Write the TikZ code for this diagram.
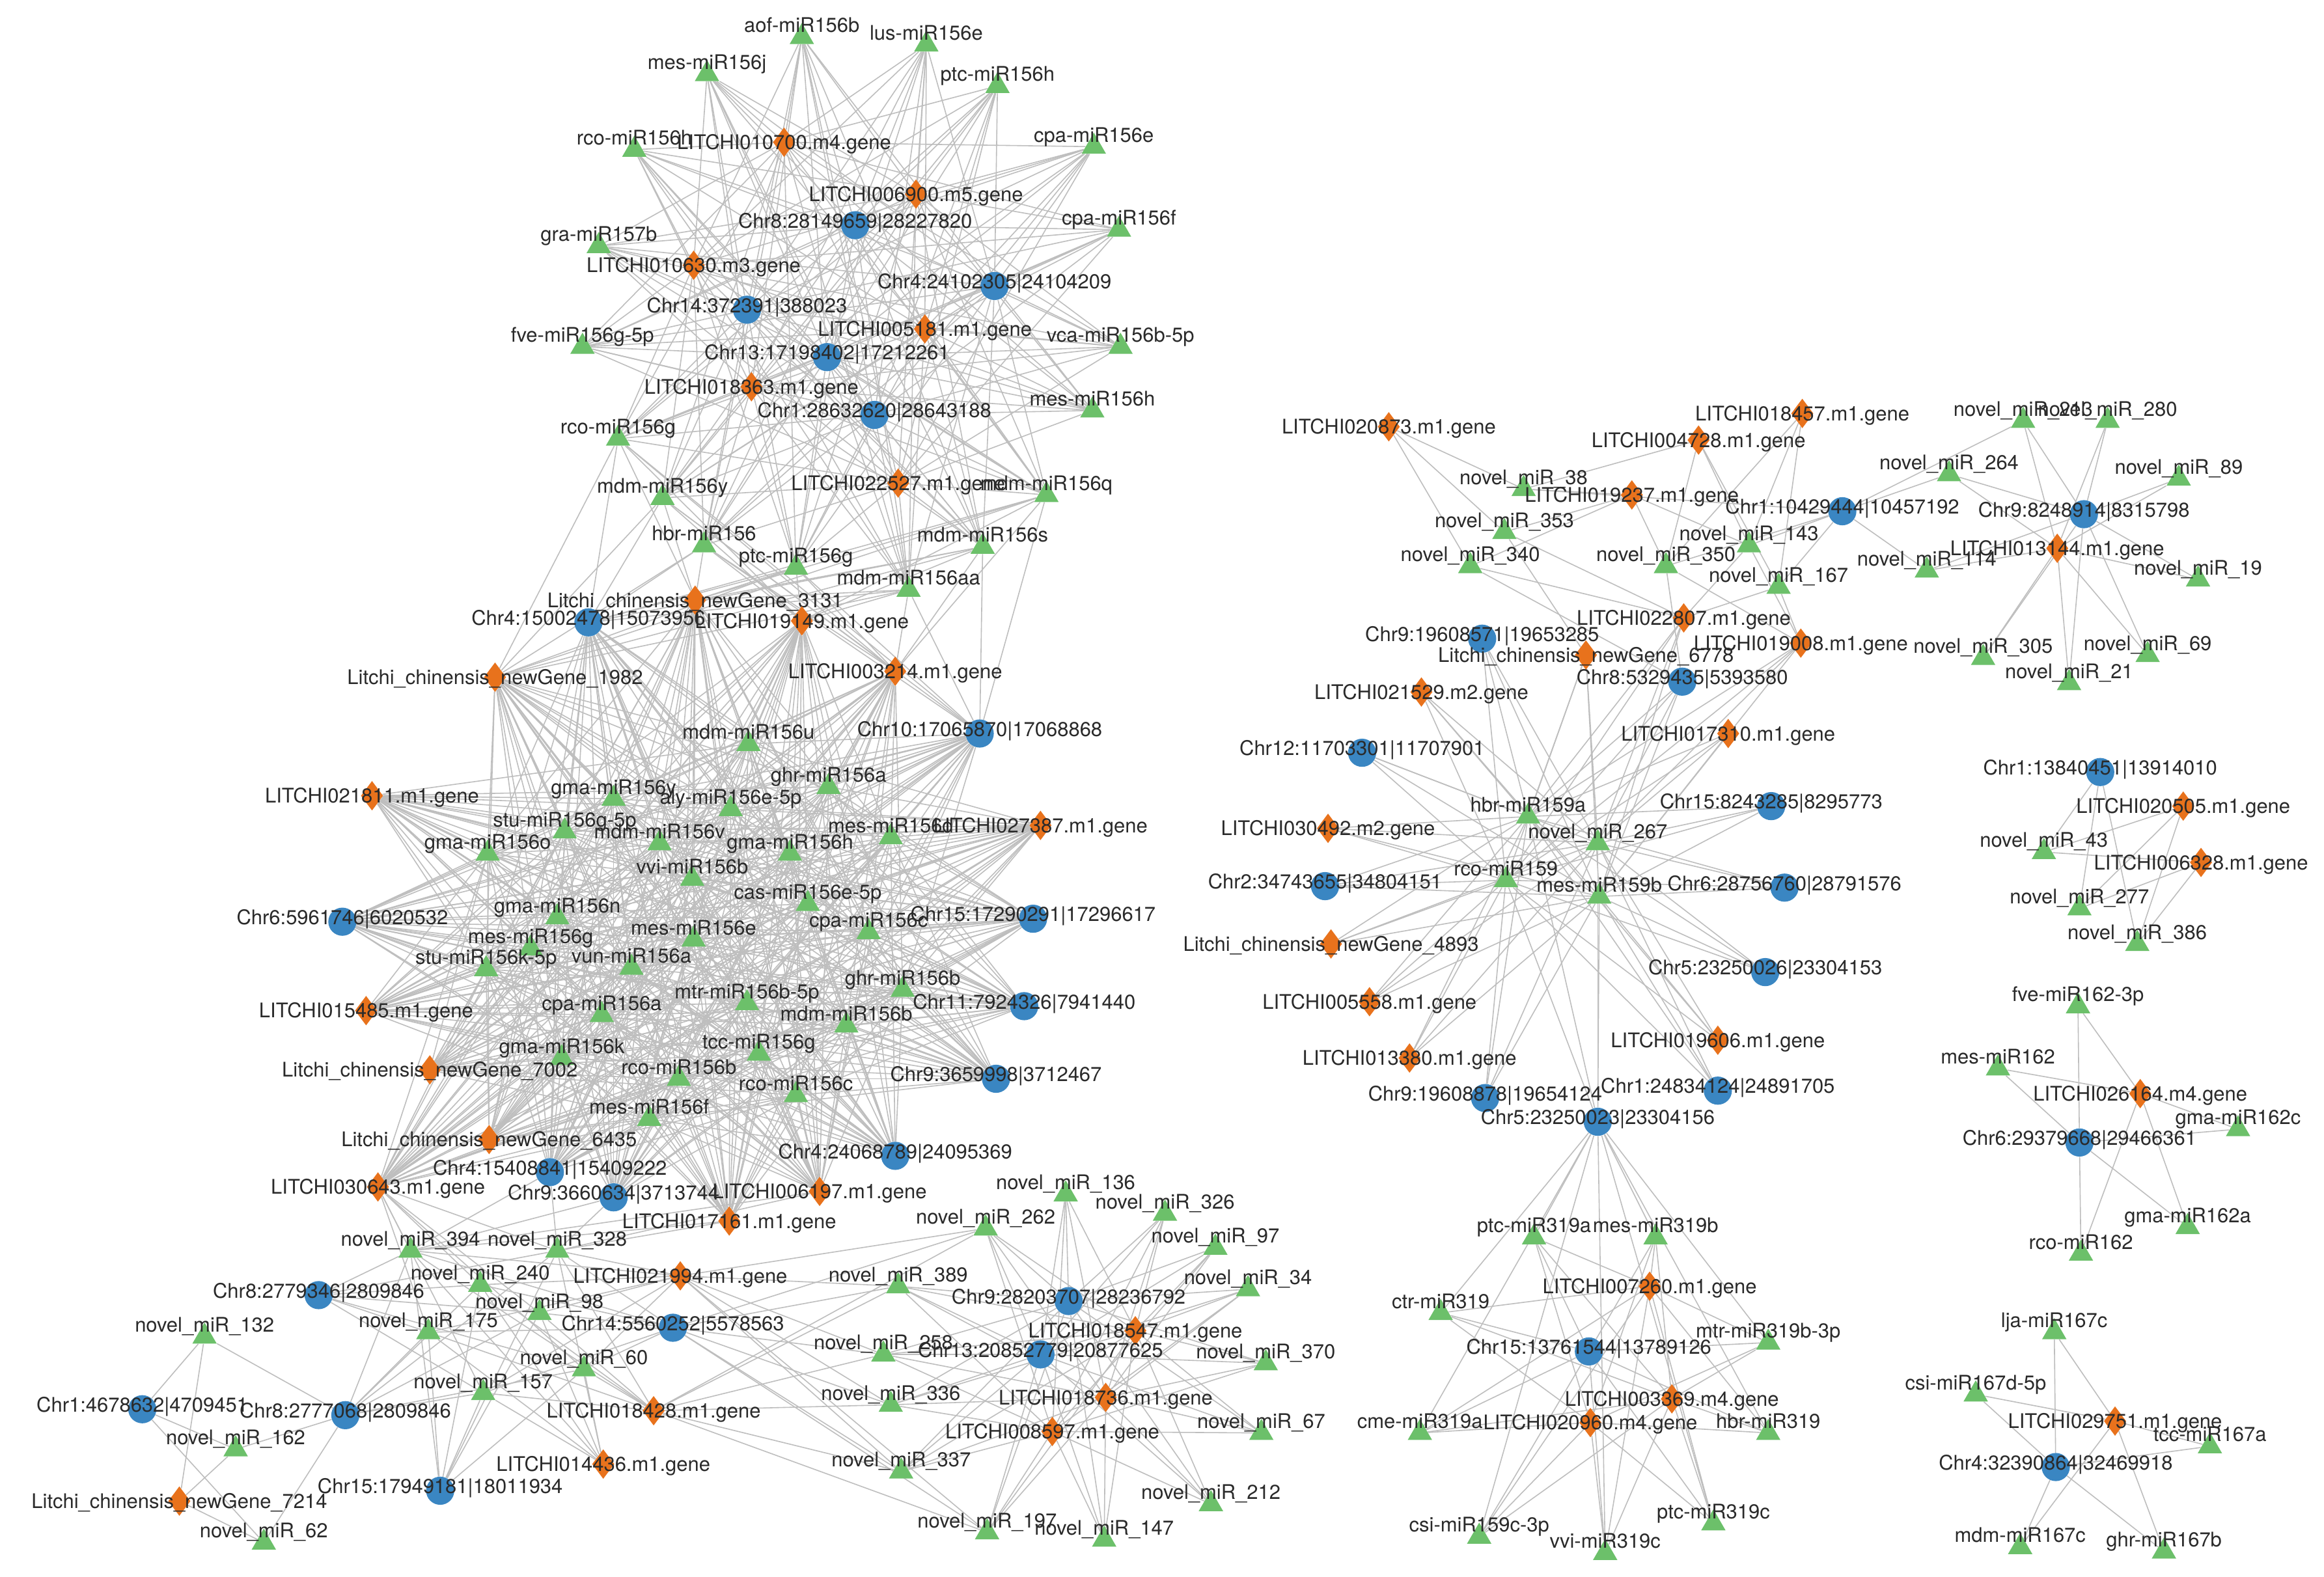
\documentclass[tikz,border=0pt]{standalone}
\usepackage{fontspec}
\setmainfont{TeX Gyre Heros}
\usetikzlibrary{shapes.geometric,backgrounds}
\definecolor{mirgreen}{HTML}{6CC06A}
\definecolor{geneorange}{HTML}{E8721C}
\definecolor{circblue}{HTML}{3A86C2}
\definecolor{linkgray}{HTML}{BEBEBE}
\definecolor{lbltext}{HTML}{2A2A2A}

\begin{document}
\begin{tikzpicture}[x=1pt,y=-1pt,
  lbl/.style={text=lbltext,font=\fontsize{13.6}{15}\selectfont,inner sep=0pt,text height=9.7pt,text depth=0pt},
  mir/.style={regular polygon,regular polygon sides=3,fill=mirgreen,inner sep=0pt,minimum size=19pt,label={[lbl,yshift=8pt]center:{#1}}},
  gene/.style={diamond,fill=geneorange,inner sep=0pt,minimum width=15pt,minimum height=20pt,label={[lbl]center:{#1}}},
  circ/.style={circle,fill=circblue,inner sep=0pt,minimum size=19pt,label={[lbl,yshift=3pt]center:{#1}}},
  link/.style={draw=linkgray,line width=0.7pt}]
\useasboundingbox (0,0) rectangle (1568,1064);

\node[mir=aof-miR156b] (aof156b) at (541,25) {};
\node[mir=lus-miR156e] (lus156e) at (625,30) {};
\node[mir=mes-miR156j] (mes156j) at (477,50) {};
\node[mir=ptc-miR156h] (ptc156h) at (673,58) {};
\node[mir=rco-miR156h] (rco156h) at (428,101) {};
\node[mir=cpa-miR156e] (cpa156e) at (738,99) {};
\node[mir=cpa-miR156f] (cpa156f) at (755,155) {};
\node[mir=gra-miR157b] (gra157b) at (404,166) {};
\node[mir=fve-miR156g-5p] (fve156g) at (393,234) {};
\node[mir=vca-miR156b-5p] (vca156b) at (756,234) {};
\node[mir=mes-miR156h] (mes156h) at (737,277) {};
\node[mir=rco-miR156g] (rco156g) at (417,296) {};
\node[mir=mdm-miR156y] (mdm156y) at (447,336) {};
\node[mir=mdm-miR156q] (mdm156q) at (706,334) {};
\node[mir=hbr-miR156] (hbr156) at (475,368) {};
\node[mir=ptc-miR156g] (ptc156g) at (537,383) {};
\node[mir=mdm-miR156s] (mdm156s) at (663,369) {};
\node[mir=mdm-miR156aa] (mdm156aa) at (613,398) {};
\node[gene=LITCHI010700.m4.gene] (L010700) at (529,96) {};
\node[gene=LITCHI006900.m5.gene] (L006900) at (618,131) {};
\node[gene=LITCHI010630.m3.gene] (L010630) at (468,179) {};
\node[gene=LITCHI005181.m1.gene] (L005181) at (624,222) {};
\node[gene=LITCHI018363.m1.gene] (L018363) at (507,261) {};
\node[gene=LITCHI022527.m1.gene] (L022527) at (606,326) {};
\node[circ=Chr8:28149659|28227820] (c8_28149659) at (577,152) {};
\node[circ=Chr4:24102305|24104209] (c4_24102305) at (671,193) {};
\node[circ=Chr14:372391|388023] (c14_372391) at (504,209) {};
\node[circ=Chr13:17198402|17212261] (c13_17198402) at (558,241) {};
\node[circ=Chr1:28632620|28643188] (c1_28632620) at (590,280) {};

\node[gene=Litchi\_chinensis\_newGene\_3131] (nG3131) at (469,405) {};
\node[gene=LITCHI019149.m1.gene] (L019149) at (541,419) {};
\node[circ=Chr4:15002478|15073956] (c4_15002478) at (397,420) {};
\node[gene=Litchi\_chinensis\_newGene\_1982] (nG1982) at (334,457) {};
\node[gene=LITCHI003214.m1.gene] (L003214) at (604,453) {};
\node[circ=Chr10:17065870|17068868] (c10_17065870) at (661,495) {};
\node[mir=mdm-miR156u] (mdm156u) at (505,502) {};
\node[mir=ghr-miR156a] (ghr156a) at (559,531) {};
\node[mir=gma-miR156y] (gma156y) at (414,539) {};
\node[mir=aly-miR156e-5p] (aly156e) at (493,546) {};
\node[gene=LITCHI021811.m1.gene] (L021811) at (251,537) {};
\node[mir=stu-miR156g-5p] (stu156g) at (381,561) {};
\node[mir=mes-miR156d] (mes156d) at (601,565) {};
\node[gene=LITCHI027387.m1.gene] (L027387) at (702,557) {};
\node[mir=mdm-miR156v] (mdm156v) at (445,569) {};
\node[mir=gma-miR156o] (gma156o) at (329,576) {};
\node[mir=gma-miR156h] (gma156h) at (533,576) {};
\node[mir=vvi-miR156b] (vvi156b) at (467,593) {};
\node[mir=cas-miR156e-5p] (cas156e) at (545,610) {};
\node[mir=gma-miR156n] (gma156n) at (376,619) {};
\node[circ=Chr6:5961746|6020532] (c6_5961746) at (231,622) {};
\node[circ=Chr15:17290291|17296617] (c15_17290291) at (697,620) {};
\node[mir=cpa-miR156c] (cpa156c) at (586,629) {};
\node[mir=mes-miR156e] (mes156e) at (468,634) {};
\node[mir=mes-miR156g] (mes156g) at (358,640) {};
\node[mir=vun-miR156a] (vun156a) at (426,653) {};
\node[mir=stu-miR156k-5p] (stu156k) at (328,654) {};
\node[mir=ghr-miR156b] (ghr156b) at (609,668) {};
\node[mir=mtr-miR156b-5p] (mtr156b) at (504,677) {};
\node[circ=Chr11:7924326|7941440] (c11_7924326) at (691,679) {};
\node[mir=cpa-miR156a] (cpa156a) at (406,685) {};
\node[gene=LITCHI015485.m1.gene] (L015485) at (247,682) {};
\node[mir=mdm-miR156b] (mdm156b) at (571,692) {};
\node[mir=tcc-miR156g] (tcc156g) at (512,711) {};
\node[mir=gma-miR156k] (gma156k) at (379,714) {};
\node[gene=Litchi\_chinensis\_newGene\_7002] (nG7002) at (290,722) {};
\node[mir=rco-miR156b] (rco156b) at (458,728) {};
\node[circ=Chr9:3659998|3712467] (c9_3659998) at (672,728) {};
\node[mir=rco-miR156c] (rco156c) at (537,739) {};
\node[mir=mes-miR156f] (mes156f) at (438,755) {};
\node[gene=Litchi\_chinensis\_newGene\_6435] (nG6435) at (330,769) {};
\node[circ=Chr4:24068789|24095369] (c4_24068789) at (604,780) {};
\node[circ=Chr4:15408841|15409222] (c4_15408841) at (371,791) {};
\node[gene=LITCHI030643.m1.gene] (L030643) at (255,801) {};
\node[gene=LITCHI006197.m1.gene] (L006197) at (553,804) {};
\node[circ=Chr9:3660634|3713744] (c9_3660634) at (414,808) {};
\node[gene=LITCHI017161.m1.gene] (L017161) at (492,824) {};

\node[mir=novel\_miR\_394] (n394) at (277,844) {};
\node[mir=novel\_miR\_328] (n328) at (376,844) {};
\node[mir=novel\_miR\_240] (n240) at (324,867) {};
\node[circ=Chr8:2779346|2809846] (c8_2779346) at (215,874) {};
\node[mir=novel\_miR\_98] (n98) at (364,886) {};
\node[gene=LITCHI021994.m1.gene] (L021994) at (459,861) {};
\node[mir=novel\_miR\_175] (n175) at (289,899) {};
\node[circ=Chr14:5560252|5578563] (c14_5560252) at (454,896) {};
\node[mir=novel\_miR\_60] (n60) at (394,924) {};
\node[mir=novel\_miR\_157] (n157) at (326,940) {};
\node[mir=novel\_miR\_132] (n132) at (138,902) {};
\node[circ=Chr1:4678632|4709451] (c1_4678632) at (96,951) {};
\node[circ=Chr8:2777068|2809846] (c8_2777068) at (233,955) {};
\node[gene=LITCHI018428.m1.gene] (L018428) at (441,952) {};
\node[mir=novel\_miR\_162] (n162) at (159,978) {};
\node[gene=LITCHI014436.m1.gene] (L014436) at (407,988) {};
\node[circ=Chr15:17949181|18011934] (c15_17949181) at (297,1006) {};
\node[gene=Litchi\_chinensis\_newGene\_7214] (nG7214) at (121,1013) {};
\node[mir=novel\_miR\_62] (n62) at (178,1041) {};

\node[mir=novel\_miR\_136] (n136) at (719,806) {};
\node[mir=novel\_miR\_262] (n262) at (665,829) {};
\node[mir=novel\_miR\_326] (n326) at (786,819) {};
\node[mir=novel\_miR\_97] (n97) at (820,842) {};
\node[mir=novel\_miR\_389] (n389) at (606,868) {};
\node[mir=novel\_miR\_34] (n34) at (842,870) {};
\node[circ=Chr9:28203707|28236792] (c9_28203707) at (721,878) {};
\node[gene=LITCHI018547.m1.gene] (L018547) at (766,898) {};
\node[mir=novel\_miR\_258] (n258) at (596,914) {};
\node[circ=Chr13:20852779|20877625] (c13_20852779) at (702,914) {};
\node[mir=novel\_miR\_370] (n370) at (854,920) {};
\node[mir=novel\_miR\_336] (n336) at (601,948) {};
\node[gene=LITCHI018736.m1.gene] (L018736) at (746,943) {};
\node[gene=LITCHI008597.m1.gene] (L008597) at (710,966) {};
\node[mir=novel\_miR\_67] (n67) at (851,967) {};
\node[mir=novel\_miR\_337] (n337) at (608,993) {};
\node[mir=novel\_miR\_212] (n212) at (817,1015) {};
\node[mir=novel\_miR\_197] (n197) at (666,1034) {};
\node[mir=novel\_miR\_147] (n147) at (745,1039) {};

\node[gene=LITCHI020873.m1.gene] (L020873) at (937,288) {};
\node[gene=LITCHI018457.m1.gene] (L018457) at (1216,279) {};
\node[gene=LITCHI004728.m1.gene] (L004728) at (1146,297) {};
\node[mir=novel\_miR\_38] (n38) at (1028,330) {};
\node[gene=LITCHI019237.m1.gene] (L019237) at (1101,334) {};
\node[circ=Chr1:10429444|10457192] (c1_10429444) at (1243,345) {};
\node[mir=novel\_miR\_353] (n353) at (1015,359) {};
\node[mir=novel\_miR\_143] (n143) at (1180,368) {};
\node[mir=novel\_miR\_340] (n340) at (992,382) {};
\node[mir=novel\_miR\_350] (n350) at (1124,382) {};
\node[mir=novel\_miR\_167] (n167) at (1200,396) {};
\node[gene=LITCHI022807.m1.gene] (L022807) at (1136,417) {};
\node[circ=Chr9:19608571|19653285] (c9_19608571) at (1000,431) {};
\node[gene=LITCHI019008.m1.gene] (L019008) at (1215,434) {};
\node[gene=Litchi\_chinensis\_newGene\_6778] (nG6778) at (1070,442) {};
\node[circ=Chr8:5329435|5393580] (c8_5329435) at (1135,460) {};
\node[gene=LITCHI021529.m2.gene] (L021529) at (959,467) {};
\node[gene=LITCHI017310.m1.gene] (L017310) at (1166,495) {};
\node[circ=Chr12:11703301|11707901] (c12_11703301) at (919,508) {};
\node[mir=hbr-miR159a] (hbr159a) at (1031,551) {};
\node[circ=Chr15:8243285|8295773] (c15_8243285) at (1195,544) {};
\node[gene=LITCHI030492.m2.gene] (L030492) at (896,559) {};
\node[mir=novel\_miR\_267] (n267) at (1078,569) {};
\node[mir=rco-miR159] (rco159) at (1016,594) {};
\node[circ=Chr2:34743655|34804151] (c2_34743655) at (894,598) {};
\node[mir=mes-miR159b] (mes159b) at (1079,605) {};
\node[circ=Chr6:28756760|28791576] (c6_28756760) at (1204,599) {};
\node[gene=Litchi\_chinensis\_newGene\_4893] (nG4893) at (898,637) {};
\node[circ=Chr5:23250026|23304153] (c5_23250026) at (1191,656) {};
\node[gene=LITCHI005558.m1.gene] (L005558) at (924,676) {};
\node[gene=LITCHI019606.m1.gene] (L019606) at (1159,702) {};
\node[gene=LITCHI013380.m1.gene] (L013380) at (951,714) {};
\node[circ=Chr1:24834124|24891705] (c1_24834124) at (1159,736) {};
\node[circ=Chr9:19608878|19654124] (c9_19608878) at (1002,741) {};
\node[circ=Chr5:23250023|23304156] (c5_23250023) at (1078,757) {};

\node[mir=ptc-miR319a] (ptc319a) at (1035,835) {};
\node[mir=mes-miR319b] (mes319b) at (1117,835) {};
\node[gene=LITCHI007260.m1.gene] (L007260) at (1113,868) {};
\node[mir=ctr-miR319] (ctr319) at (972,886) {};
\node[mir=mtr-miR319b-3p] (mtr319b) at (1193,906) {};
\node[circ=Chr15:13761544|13789126] (c15_13761544) at (1072,912) {};
\node[gene=LITCHI003369.m4.gene] (L003369) at (1128,944) {};
\node[gene=LITCHI020960.m4.gene] (L020960) at (1073,960) {};
\node[mir=cme-miR319a] (cme319a) at (958,967) {};
\node[mir=hbr-miR319] (hbr319) at (1193,967) {};
\node[mir=ptc-miR319c] (ptc319c) at (1156,1028) {};
\node[mir=csi-miR159c-3p] (csi159c) at (998,1037) {};
\node[mir=vvi-miR319c] (vvi319c) at (1083,1048) {};

\node[mir=novel\_miR\_213] (n213) at (1365,284) {};
\node[mir=novel\_miR\_280] (n280) at (1422,284) {};
\node[mir=novel\_miR\_264] (n264) at (1315,320) {};
\node[mir=novel\_miR\_89] (n89) at (1470,323) {};
\node[circ=Chr9:8248914|8315798] (c9_8248914) at (1406,347) {};
\node[gene=LITCHI013144.m1.gene] (L013144) at (1388,370) {};
\node[mir=novel\_miR\_114] (n114) at (1300,385) {};
\node[mir=novel\_miR\_19] (n19) at (1483,391) {};
\node[mir=novel\_miR\_305] (n305) at (1338,444) {};
\node[mir=novel\_miR\_69] (n69) at (1449,442) {};
\node[mir=novel\_miR\_21] (n21) at (1396,461) {};

\node[circ=Chr1:13840451|13914010] (c1_13840451) at (1417,521) {};
\node[gene=LITCHI020505.m1.gene] (L020505) at (1473,544) {};
\node[mir=novel\_miR\_43] (n43) at (1379,575) {};
\node[gene=LITCHI006328.m1.gene] (L006328) at (1485,582) {};
\node[mir=novel\_miR\_277] (n277) at (1403,613) {};
\node[mir=novel\_miR\_386] (n386) at (1442,637) {};

\node[mir=fve-miR162-3p] (fve162) at (1402,679) {};
\node[mir=mes-miR162] (mes162) at (1348,721) {};
\node[gene=LITCHI026164.m4.gene] (L026164) at (1444,738) {};
\node[mir=gma-miR162c] (gma162c) at (1510,762) {};
\node[circ=Chr6:29379668|29466361] (c6_29379668) at (1403,771) {};
\node[mir=gma-miR162a] (gma162a) at (1476,828) {};
\node[mir=rco-miR162] (rco162) at (1404,846) {};

\node[mir=lja-miR167c] (lja167c) at (1386,899) {};
\node[mir=csi-miR167d-5p] (csi167d) at (1333,941) {};
\node[gene=LITCHI029751.m1.gene] (L029751) at (1427,959) {};
\node[mir=tcc-miR167a] (tcc167a) at (1491,976) {};
\node[circ=Chr4:32390864|32469918] (c4_32390864) at (1387,990) {};
\node[mir=mdm-miR167c] (mdm167c) at (1363,1044) {};
\node[mir=ghr-miR167b] (ghr167b) at (1460,1047) {};

\begin{scope}[on background layer]
\fill[white] (0,0) rectangle (1568,1064);
\foreach \m in {aof156b,lus156e,mes156j,ptc156h,rco156h,cpa156e,cpa156f,gra157b,fve156g,vca156b,mes156h,rco156g,mdm156y,mdm156q,hbr156,ptc156g,mdm156s,mdm156aa}
  \foreach \t in {L010700,L006900,L010630,L005181,L018363,L022527,c8_28149659,c4_24102305,c14_372391,c13_17198402,c1_28632620}
    \draw[link] (\m) -- (\t);
\foreach \m in {rco156g,mdm156y,hbr156,ptc156g,mdm156s,mdm156aa,mdm156q}
  \foreach \t in {nG3131,L019149,L003214,c4_15002478,c10_17065870,nG1982}
    \draw[link] (\m) -- (\t);
\foreach \m in {mdm156u,ghr156a,gma156y,aly156e,stu156g,mes156d,mdm156v,gma156o,gma156h,vvi156b,cas156e,gma156n,cpa156c,mes156e,mes156g,vun156a,stu156k,ghr156b,mtr156b,cpa156a,mdm156b,tcc156g,gma156k,rco156b,rco156c,mes156f}
  \foreach \t in {nG3131,L019149,nG1982,L003214,L021811,L027387,L015485,nG7002,nG6435,L030643,L006197,L017161,c4_15002478,c10_17065870,c6_5961746,c15_17290291,c11_7924326,c9_3659998,c4_24068789,c4_15408841,c9_3660634}
    \draw[link] (\m) -- (\t);
\foreach \m in {n394,n328,n240,n98,n175,n60,n157}
  \foreach \t in {c8_2779346,L030643,L021994,c14_5560252,L018428,L014436,c15_17949181,c8_2777068}
    \draw[link] (\m) -- (\t);
\foreach \m in {n394,n328}
  \foreach \t in {c4_15408841,c9_3660634,L017161,L006197}
    \draw[link] (\m) -- (\t);
\foreach \m in {n132,n162,n62}
  \foreach \t in {c1_4678632,c8_2777068,nG7214}
    \draw[link] (\m) -- (\t);
\foreach \m in {n262,n389,n258,n336,n337,n197,n147,n136,n326,n97,n34,n370,n67,n212}
  \foreach \t in {c9_28203707,c13_20852779,L018547,L018736,L008597}
    \draw[link] (\m) -- (\t);
\foreach \m in {n262,n389,n258,n336,n337,n197}
  \foreach \t in {L021994,c14_5560252,L018428}
    \draw[link] (\m) -- (\t);
\foreach \m in {hbr159a,n267,rco159,mes159b}
  \foreach \t in {L022807,nG6778,L019008,L021529,L017310,L030492,nG4893,L005558,L019606,L013380,c9_19608571,c8_5329435,c12_11703301,c15_8243285,c2_34743655,c6_28756760,c5_23250026,c1_24834124,c9_19608878,c5_23250023}
    \draw[link] (\m) -- (\t);
\foreach \m/\t in {n38/L020873,n38/L019237,n38/L004728,n38/c1_10429444,
  n353/L020873,n353/L019237,n353/L022807,n353/nG6778,
  n340/L020873,n340/L022807,n340/c8_5329435,n340/L019237,
  n143/L018457,n143/L004728,n143/L019237,n143/c1_10429444,n143/L022807,n143/L019008,
  n350/L018457,n350/L004728,n350/L019237,n350/c1_10429444,n350/L019008,n350/c8_5329435,
  n167/L018457,n167/L004728,n167/c1_10429444,n167/L022807,n167/L019008,
  n264/c1_10429444,n114/c1_10429444,n213/c1_10429444}
    \draw[link] (\m) -- (\t);
\foreach \m in {ptc319a,mes319b,ctr319,mtr319b,cme319a,hbr319,ptc319c,csi159c,vvi319c}
  \foreach \t in {L007260,c15_13761544,L003369,L020960,c5_23250023}
    \draw[link] (\m) -- (\t);
\foreach \m in {n213,n280,n264,n89,n114,n19,n305,n69,n21}
  \foreach \t in {c9_8248914,L013144}
    \draw[link] (\m) -- (\t);
\foreach \m in {n43,n277,n386}
  \foreach \t in {c1_13840451,L020505,L006328}
    \draw[link] (\m) -- (\t);
\foreach \m in {fve162,mes162,gma162c,gma162a,rco162}
  \foreach \t in {L026164,c6_29379668}
    \draw[link] (\m) -- (\t);
\foreach \m in {lja167c,csi167d,tcc167a,mdm167c,ghr167b}
  \foreach \t in {L029751,c4_32390864}
    \draw[link] (\m) -- (\t);
\end{scope}
\end{tikzpicture}
\end{document}
